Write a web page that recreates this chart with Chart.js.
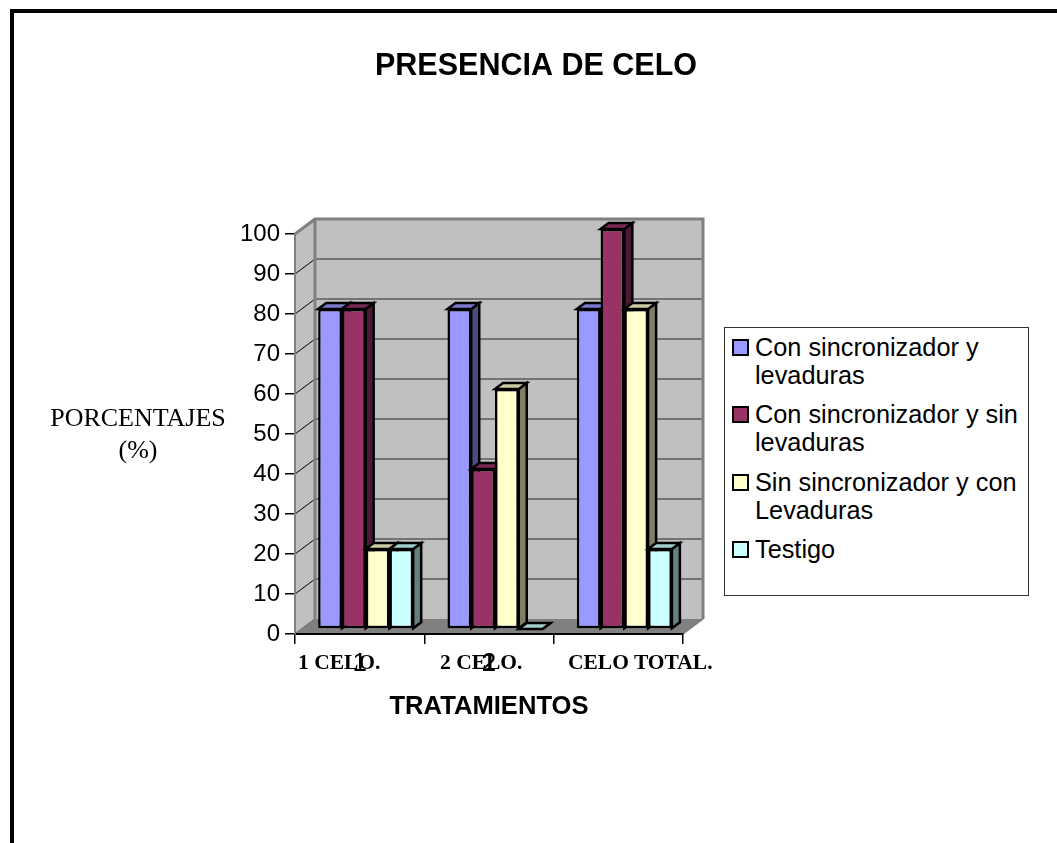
<!DOCTYPE html>
<html lang="es">
<head>
<meta charset="utf-8">
<title>Presencia de celo</title>
<script src="https://cdn.jsdelivr.net/npm/chart.js@4/dist/chart.umd.min.js"></script>
<style>
    html, body { margin: 0; padding: 0; background: #fff; width: 1057px; height: 843px; overflow: hidden; }
    #wrapper { position: relative; width: 1057px; height: 843px; }
    #canvas1 { position: absolute; left: 0; top: 0; }
    .borde { position: absolute; background: #000; }
    #borde-top { left: 10px; top: 9px; right: 0; height: 4px; }
    #borde-left { left: 10px; top: 9px; bottom: 0; width: 4px; }
    #ylabel { position: absolute; left: 38px; top: 402px; width: 200px; text-align: center;
        font: 26px/32px "Liberation Serif", serif; color: #000; }
    .caja-cat { position: absolute; top: 652px; font: bold 21.5px/20px "Liberation Serif", serif; color: #000; white-space: nowrap; }
    #legend { position: absolute; left: 724px; top: 327px; width: 305px; height: 269px; box-sizing: border-box;
        border: 1px solid #333; background: #fff; padding-top: 5px;
        font: 25.3px/28px "Liberation Sans", sans-serif; color: #000; }
    .item { position: relative; padding-left: 30px; margin-bottom: 11.4px; }
    .swatch { position: absolute; left: 7px; top: 6px; width: 17px; height: 17px; box-sizing: border-box; border: 2.5px solid #000; }
</style>
</head>
<body>
<div id="wrapper">
    <canvas id="canvas1" width="1057" height="843"></canvas>
    <div class="borde" id="borde-top"></div>
    <div class="borde" id="borde-left"></div>
    <div id="ylabel"></div>
    <div id="legend"></div>
</div>
<script>
"use strict"
const TITULO = "PRESENCIA DE CELO";
const TITULO_X = "TRATAMIENTOS";
const TITULO_Y = ["PORCENTAJES", "(%)"];

// etiquetas del eje (la tercera queda tapada por la caja de texto en el original)
const categorias = ["1", "2", ""];
const cajasCategorias = ["1 CELO.", "2 CELO.", "CELO TOTAL."];
const cajasLeft = [298, 440, 568];

const nombres = ["Con sincronizador y levaduras", "Con sincronizador y sin levaduras", "Sin sincronizador y con Levaduras", "Testigo"];
const conSincConLev = [80, 80, 80];
const conSincSinLev = [80, 40, 100];
const sinSincConLev = [20, 60, 80];
const testigo = [20, 0, 20];

const coloresFrente = ["#9999FF", "#993366", "#FFFFCC", "#CCFFFF"];
const coloresArriba = ["#7A7ACC", "#7A2952", "#CCCCA3", "#A3CCCC"];
const coloresLado = ["#4C4C7F", "#4C1933", "#7F7F66", "#667F7F"];

const ticksY = { min: 0, max: 100, step: 10 };

// profundidad de la caja 3D y de las barras
const FONDO = { x: 20, y: -15 };
const BARRA_POS = { x: 6, y: -5 };
const BARRA_PROF = { x: 8, y: -6 };

function poligono(ctx, puntos, relleno, borde, grosor) {
    ctx.beginPath();
    puntos.forEach((p, i) => i == 0 ? ctx.moveTo(p[0], p[1]) : ctx.lineTo(p[0], p[1]));
    ctx.closePath();
    ctx.fillStyle = relleno;
    ctx.fill();
    if (borde) {
        ctx.strokeStyle = borde;
        ctx.lineWidth = grosor;
        ctx.lineJoin = "miter";
        ctx.stroke();
    }
}

// paredes y suelo de la caja 3D, por detras de los ejes
const cajaPlugin = {
    id: "caja",
    afterLayout(chart) {
        // el titulo no esta centrado en la pagina sino un poco a la derecha
        chart.titleBlock.left = 15;
        chart.titleBlock.right = chart.width;
    },
    beforeDraw(chart) {
        let ctx = chart.ctx;
        let a = chart.chartArea;
        let fx = FONDO.x, fy = FONDO.y;
        ctx.save();
        poligono(ctx, [[a.left, a.top], [a.left + fx, a.top + fy], [a.left + fx, a.bottom + fy], [a.left, a.bottom]], "#C0C0C0");
        poligono(ctx, [[a.left, a.bottom], [a.left + fx, a.bottom + fy], [a.right + fx, a.bottom + fy], [a.right, a.bottom]], "#808080");
        ctx.fillStyle = "#C0C0C0";
        ctx.fillRect(a.left + fx, a.top + fy, a.right - a.left, a.bottom - a.top);

        chart.scales.y.ticks.forEach(t => {
            let py = chart.scales.y.getPixelForValue(t.value);
            if (t.value > 0) {
                ctx.strokeStyle = "#5A5A5A";
                ctx.lineWidth = 1.5;
                ctx.beginPath();
                ctx.moveTo(a.left + fx, py + fy);
                ctx.lineTo(a.right + fx, py + fy);
                ctx.stroke();
            }
            ctx.strokeStyle = "#000";
            ctx.lineWidth = 1;
            ctx.beginPath();
            ctx.moveTo(a.left, py);
            ctx.lineTo(a.left + fx, py + fy);
            ctx.stroke();
        });

        // contorno gris de la pared
        ctx.strokeStyle = "#808080";
        ctx.lineWidth = 3;
        ctx.beginPath();
        ctx.moveTo(a.left, a.top);
        ctx.lineTo(a.left + fx, a.top + fy);
        ctx.lineTo(a.right + fx, a.top + fy);
        ctx.lineTo(a.right + fx, a.bottom + fy);
        ctx.moveTo(a.left + fx, a.top + fy);
        ctx.lineTo(a.left + fx, a.bottom + fy);
        ctx.stroke();
        ctx.lineWidth = 1.5;
        ctx.beginPath();
        ctx.moveTo(a.right, a.bottom);
        ctx.lineTo(a.right + fx, a.bottom + fy);
        ctx.moveTo(a.left, a.bottom);
        ctx.lineTo(a.left + fx, a.bottom + fy);
        ctx.stroke();
        ctx.restore();
    },
    // las barras se dibujan todas juntas de izquierda a derecha
    beforeDatasetDraw() {
        return false;
    },
    afterDatasetsDraw(chart) {
        let ctx = chart.ctx;
        ctx.save();
        ctx.translate(BARRA_POS.x, BARRA_POS.y);
        chart.data.labels.forEach((c, j) => {
            chart.data.datasets.forEach((ds, i) => {
                let barra = chart.getDatasetMeta(i).data[j];
                let izq = barra.x - barra.width / 2;
                let der = barra.x + barra.width / 2;
                let px = BARRA_PROF.x, py = BARRA_PROF.y;
                poligono(ctx, [[der, barra.y], [der + px, barra.y + py], [der + px, barra.base + py], [der, barra.base]], coloresLado[i], "#000", 2.5);
                poligono(ctx, [[izq, barra.y], [izq + px, barra.y + py], [der + px, barra.y + py], [der, barra.y]], coloresArriba[i], "#000", 2.5);
                barra.draw(ctx);
            });
        });
        ctx.restore();
    }
};

const series = [conSincConLev, conSincSinLev, sinSincConLev, testigo];

let chartOptions = {
    type: "bar",
    data: {
        labels: categorias,
        datasets: series.map((valores, i) => ({
            label: nombres[i],
            data: valores,
            backgroundColor: coloresFrente[i],
            borderColor: "#000",
            borderWidth: 2.5,
            borderSkipped: false,
            categoryPercentage: 0.735,
            barPercentage: 1
        }))
    },
    options: {
        responsive: false,
        animation: false,
        layout: { padding: { left: 0, top: 0, right: 374, bottom: 109 } },
        plugins: {
            legend: { display: false },
            tooltip: { enabled: false },
            title: {
                display: true,
                text: TITULO,
                color: "#000",
                font: { family: "'Liberation Sans'", size: 30.5, weight: "bold" },
                padding: { top: 48, bottom: 149.4 }
            }
        },
        scales: {
            x: {
                afterFit(scale) { scale.height = 100; },
                border: { color: "#000", width: 2 },
                grid: { drawOnChartArea: false, color: "#000", lineWidth: 1.5, tickLength: 10 },
                ticks: { color: "#000", padding: 4, maxRotation: 0, autoSkip: false,
                    font: { family: "'Liberation Sans'", size: 26 } },
                title: {
                    display: true,
                    text: TITULO_X,
                    color: "#000",
                    font: { family: "'Liberation Sans'", size: 25.6, weight: "bold" },
                    padding: { top: 0, bottom: 12 }
                }
            },
            y: {
                min: ticksY.min,
                max: ticksY.max,
                afterFit(scale) { scale.width = 295; },
                border: { color: "#808080", width: 2 },
                grid: { drawOnChartArea: false, color: "#000", lineWidth: 1.5, tickLength: 10 },
                ticks: { stepSize: ticksY.step, color: "#000", padding: 5,
                    font: { family: "'Liberation Sans'", size: 24 } }
            }
        }
    },
    plugins: [cajaPlugin]
};

let wrapper = document.getElementById("wrapper");
document.getElementById("ylabel").innerHTML = TITULO_Y.join("<br>");

// cajas de texto encima del eje
cajasCategorias.forEach((texto, i) => {
    let caja = document.createElement("div");
    caja.className = "caja-cat";
    caja.style.left = cajasLeft[i] + "px";
    caja.textContent = texto;
    wrapper.appendChild(caja);
});

// leyenda con texto en varias lineas
let legend = document.getElementById("legend");
nombres.forEach((nombre, i) => {
    let item = document.createElement("div");
    item.className = "item";
    let swatch = document.createElement("span");
    swatch.className = "swatch";
    swatch.style.background = coloresFrente[i];
    item.appendChild(swatch);
    item.appendChild(document.createTextNode(nombre));
    legend.appendChild(item);
});

let chart1 = new Chart(document.getElementById("canvas1"), chartOptions);
</script>
</body>
</html>
